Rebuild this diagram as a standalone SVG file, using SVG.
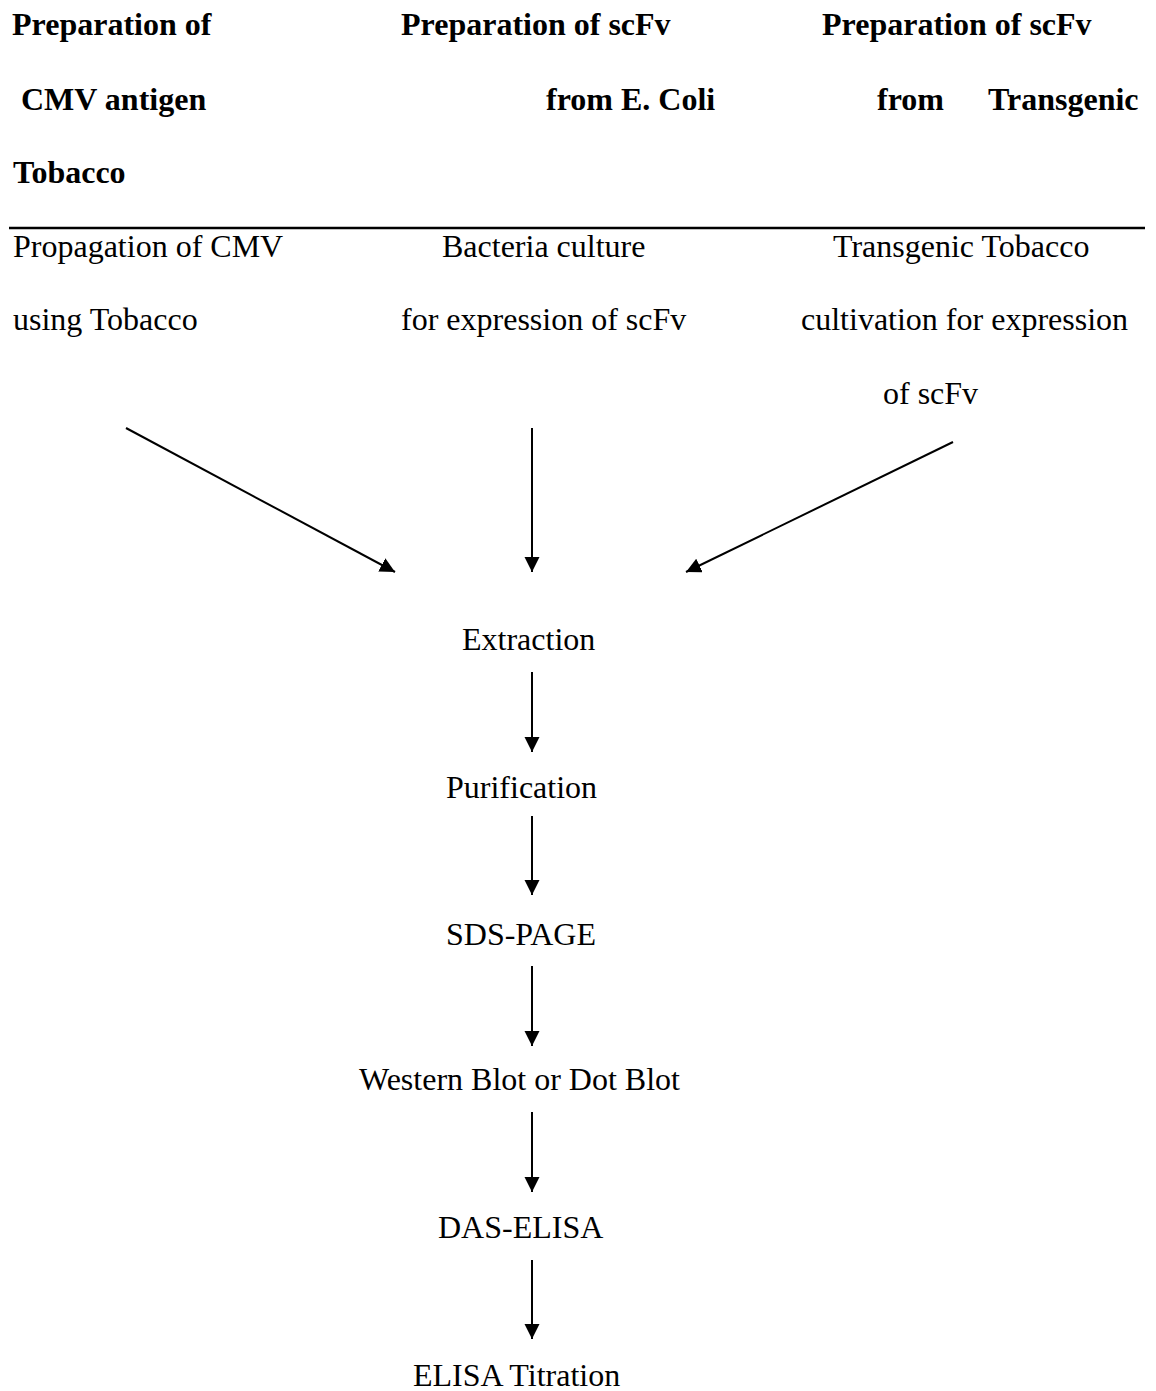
<svg xmlns="http://www.w3.org/2000/svg" width="1156" height="1391" viewBox="0 0 1156 1391">
<style>
text{font-family:"Liberation Serif","Times New Roman",serif;font-size:32px;fill:#000}
.b{font-weight:bold}
.c{stroke:#000;stroke-width:2;fill:none}
</style>
<defs>
<marker id="ah" markerUnits="userSpaceOnUse" markerWidth="16" markerHeight="16" refX="15" refY="7.5" orient="auto">
<path d="M0,0 L15,7.5 L0,15 z" fill="#000"/>
</marker>
</defs>
<rect width="1156" height="1391" fill="#fff"/>
<g id="header-col1">
<text class="b" x="12" y="35">Preparation of</text>
<text class="b" x="21" y="110">CMV antigen</text>
<text class="b" x="13" y="183">Tobacco</text>
</g>
<g id="header-col2">
<text class="b" x="401" y="35">Preparation of scFv</text>
<text class="b" x="546" y="110">from E. Coli</text>
</g>
<g id="header-col3">
<text class="b" x="822" y="35">Preparation of scFv</text>
<text class="b" x="877" y="110">from</text>
<text class="b" x="988" y="110">Transgenic</text>
</g>
<line x1="9" y1="228" x2="1145" y2="228" stroke="#000" stroke-width="2.5"/>
<g id="node-propagation">
<text x="13" y="257">Propagation of CMV</text>
<text x="13" y="330">using Tobacco</text>
</g>
<g id="node-bacteria">
<text x="442" y="257">Bacteria culture</text>
<text x="401" y="330">for expression of scFv</text>
</g>
<g id="node-transgenic">
<text x="833" y="257">Transgenic Tobacco</text>
<text x="801" y="330">cultivation for expression</text>
<text x="883" y="404">of scFv</text>
</g>
<g id="node-extraction"><text x="462" y="650">Extraction</text></g>
<g id="node-purification"><text x="446" y="798">Purification</text></g>
<g id="node-sds"><text x="446" y="945">SDS-PAGE</text></g>
<g id="node-western"><text x="359" y="1090">Western Blot or Dot Blot</text></g>
<g id="node-das"><text x="438" y="1238">DAS-ELISA</text></g>
<g id="node-titration"><text x="413" y="1386">ELISA Titration</text></g>
<g id="connectors" class="c">
<line x1="126" y1="428" x2="395" y2="572" marker-end="url(#ah)"/>
<line x1="532" y1="428" x2="532" y2="572" marker-end="url(#ah)"/>
<line x1="953" y1="442" x2="686" y2="572" marker-end="url(#ah)"/>
<line x1="532" y1="672" x2="532" y2="752" marker-end="url(#ah)"/>
<line x1="532" y1="816" x2="532" y2="895" marker-end="url(#ah)"/>
<line x1="532" y1="966" x2="532" y2="1046" marker-end="url(#ah)"/>
<line x1="532" y1="1112" x2="532" y2="1192" marker-end="url(#ah)"/>
<line x1="532" y1="1260" x2="532" y2="1339" marker-end="url(#ah)"/>
</g>
</svg>
